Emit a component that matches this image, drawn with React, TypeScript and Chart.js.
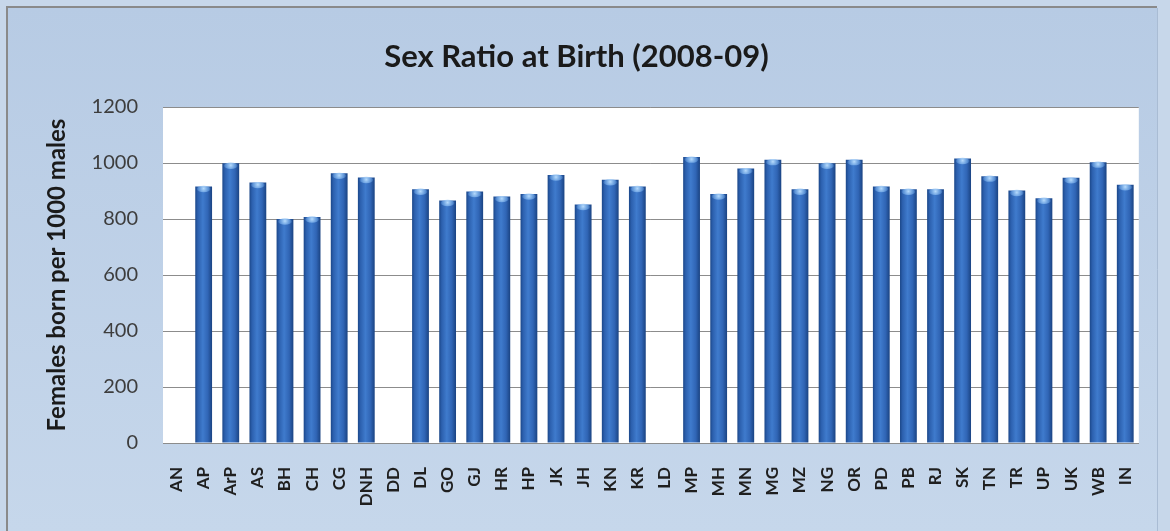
import React, { useEffect, useRef } from "react";
import { Chart, registerables } from "chart.js";

Chart.register(...registerables);

const categories = [
  "AN", "AP", "ArP", "AS", "BH", "CH", "CG", "DNH", "DD", "DL", "GO", "GJ",
  "HR", "HP", "JK", "JH", "KN", "KR", "LD", "MP", "MH", "MN", "MG", "MZ",
  "NG", "OR", "PD", "PB", "RJ", "SK", "TN", "TR", "UP", "UK", "WB", "IN",
];

const sexRatio: (number | null)[] = [
  null, 916, 999, 930, 800, 807, 963, 948, null, 906, 866, 898,
  880, 889, 957, 852, 940, 916, null, 1021, 889, 980, 1012, 906,
  999, 1012, 916, 906, 906, 1016, 953, 902, 874, 947, 1003, 922,
];

const yTicks = [0, 200, 400, 600, 800, 1000, 1200];

const chartTitle = "Sex Ratio at Birth (2008-09)";
const yTitle = "Females born per 1000 males";

const FONT = "Lato, 'Open Sans', sans-serif";
const BAR_FRACTION = 0.62;

const framePlugin = {
  id: "framePlugin",
  beforeDraw(chart: any) {
    const { ctx, width, height, chartArea } = chart;
    ctx.save();
    ctx.fillStyle = "#c7d7ea";
    ctx.fillRect(0, 0, width, height);
    const g = ctx.createLinearGradient(0, 7, 0, height);
    g.addColorStop(0, "#b7cbe4");
    g.addColorStop(1, "#c6d7eb");
    ctx.fillStyle = g;
    ctx.fillRect(7, 7, 1150, height - 7);
    ctx.strokeStyle = "#8a8a8a";
    ctx.lineWidth = 2;
    ctx.beginPath();
    ctx.moveTo(7, height);
    ctx.lineTo(7, 7);
    ctx.lineTo(1157, 7);
    ctx.stroke();
    ctx.strokeStyle = "#a9bcd4";
    ctx.lineWidth = 1;
    ctx.beginPath();
    ctx.moveTo(1157.5, 8);
    ctx.lineTo(1157.5, height);
    ctx.stroke();
    if (chartArea) {
      ctx.fillStyle = "#ffffff";
      ctx.fillRect(
        chartArea.left,
        chartArea.top,
        chartArea.right - chartArea.left,
        chartArea.bottom - chartArea.top
      );
    }
    ctx.restore();
  },
};

const capPlugin = {
  id: "capPlugin",
  afterDatasetsDraw(chart: any) {
    const { ctx } = chart;
    const meta = chart.getDatasetMeta(0);
    ctx.save();
    meta.data.forEach((el: any, i: number) => {
      if (sexRatio[i] == null) return;
      const x = el.x;
      const y = el.y;
      const w = el.width;
      const rg = ctx.createRadialGradient(x, y + 2, 0, x, y + 2, w / 2);
      rg.addColorStop(0, "rgba(190,225,255,0.95)");
      rg.addColorStop(0.6, "rgba(120,175,235,0.6)");
      rg.addColorStop(1, "rgba(70,130,210,0)");
      ctx.fillStyle = rg;
      ctx.beginPath();
      ctx.ellipse(x, y + 2.5, w / 2 - 1.5, 3.2, 0, 0, Math.PI * 2);
      ctx.fill();
    });
    ctx.restore();
  },
};

export default function App() {
  const canvasRef = useRef<HTMLCanvasElement | null>(null);

  useEffect(() => {
    if (!canvasRef.current) return;
    const chart = new Chart(canvasRef.current, {
      type: "bar",
      data: {
        labels: categories,
        datasets: [
          {
            label: "Sex ratio",
            data: sexRatio,
            barPercentage: BAR_FRACTION,
            categoryPercentage: 1,
            borderWidth: 0,
            backgroundColor: (c: any) => {
              const ch = c.chart;
              const area = ch.chartArea;
              if (!area || c.dataIndex == null) return "#3a6fc0";
              const x = ch.scales.x.getPixelForValue(c.dataIndex);
              const w = ((area.right - area.left) / categories.length) * BAR_FRACTION;
              const g = ch.ctx.createLinearGradient(x - w / 2, 0, x + w / 2, 0);
              g.addColorStop(0, "#1b4789");
              g.addColorStop(0.15, "#2c60ae");
              g.addColorStop(0.45, "#3f7bcd");
              g.addColorStop(0.75, "#3065b5");
              g.addColorStop(1, "#1a4382");
              return g;
            },
          },
        ],
      },
      options: {
        responsive: false,
        animation: false,
        devicePixelRatio: 1,
        layout: { padding: { left: 8, right: 25, top: 8, bottom: 0 } },
        plugins: {
          legend: { display: false },
          tooltip: { enabled: false },
          title: {
            display: true,
            text: chartTitle,
            color: "#1a1a1a",
            font: { family: FONT, size: 31, weight: "bold", lineHeight: 1.2 },
            padding: { top: 30.4, bottom: 31.4 },
          },
        },
        scales: {
          x: {
            offset: true,
            grid: { display: false, drawTicks: false },
            border: { display: true, color: "#8c8c8c", width: 1 },
            ticks: {
              autoSkip: false,
              maxRotation: 90,
              minRotation: 90,
              padding: 24,
              color: "#1f1f1f",
              font: { family: FONT, size: 17, weight: "bold" },
            },
            afterFit: (scale: any) => {
              scale.height = 88;
            },
          },
          y: {
            min: 0,
            max: 1200,
            afterBuildTicks: (scale: any) => {
              scale.ticks = yTicks.map((v) => ({ value: v }));
            },
            grid: { color: "#8c8c8c", lineWidth: 1, drawTicks: false },
            border: { display: false },
            ticks: {
              padding: 25,
              color: "#3d3d3d",
              font: { family: FONT, size: 20 },
              callback: (v: any) => String(v),
            },
            title: {
              display: true,
              text: yTitle,
              color: "#1a1a1a",
              font: { family: FONT, size: 24, weight: "bold", lineHeight: 1.2 },
              padding: { top: 34.6, bottom: 0 },
            },
            afterFit: (scale: any) => {
              scale.width = 155;
            },
          },
        },
      },
      plugins: [framePlugin, capPlugin],
    });
    return () => chart.destroy();
  }, []);

  return (
    <div style={{ position: "absolute", left: 0, top: 0, width: 1170, height: 531 }}>
      <canvas ref={canvasRef} width={1170} height={531} />
    </div>
  );
}
